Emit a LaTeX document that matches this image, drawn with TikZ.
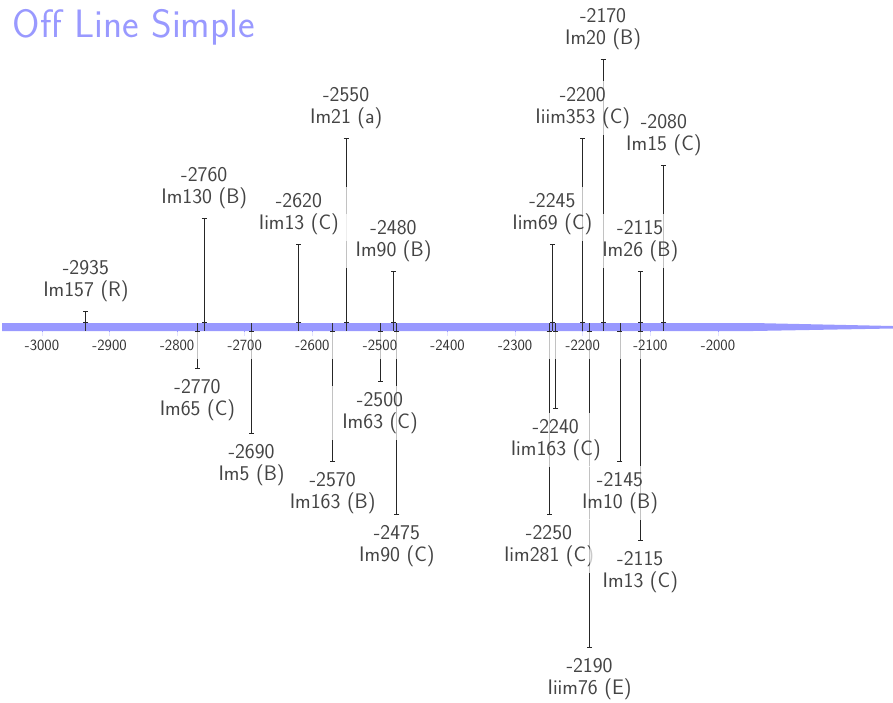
\documentclass[tikz,border=0pt]{standalone}
\usetikzlibrary{arrows.meta}
\renewcommand{\familydefault}{\sfdefault}
\definecolor{barblue}{HTML}{9999FF}
\definecolor{tickblue}{HTML}{9999FF}
\definecolor{txt}{HTML}{444444}
\definecolor{ticktxt}{HTML}{333333}
\begin{document}
\begin{tikzpicture}[x=1pt,y=-1pt,
  evline/.style={line width=0.9pt, draw=black!85, {Bar[width=5pt,line width=0.9pt]}-{Bar[width=5pt,line width=0.9pt]}},
  crossline/.style={line width=0.9pt, draw=black!80},
  evlab/.style={align=center, text=txt, font=\fontsize{21}{22}\selectfont, minimum width=100pt, fill=white, fill opacity=0.72, text opacity=1, inner ysep=6pt, inner xsep=0pt},
  ticklab/.style={text=ticktxt, font=\fontsize{15.6}{16}\selectfont, minimum width=68pt, minimum height=27pt, fill=white, fill opacity=0.72, text opacity=1, inner sep=0pt},
  tickmark/.style={draw=tickblue, line width=0.9pt},
  titlestyle/.style={text=barblue, font=\fontsize{39.6}{42}\selectfont, anchor=base west, inner sep=0pt}]
\useasboundingbox (0,0) rectangle (893,702);
% axis bar
\fill[barblue] (2,323) -- (753,323) -- (893,326) -- (893,328.5) -- (753,331) -- (2,331) -- cycle;
% tick marks
\foreach \t in {-3000,-2900,...,-2000} {
  \pgfmathsetmacro\x{42+(\t+3000)*0.676}
  \draw[tickmark] (\x,331) -- (\x,336);
}
% event lines above
\foreach \v/\e [count=\i] in {-2935/311,-2760/218,-2620/244,-2550/138,-2480/271,-2245/244,-2200/138,-2170/59,-2115/271,-2080/165} {
  \pgfmathsetmacro\x{42+(\v+3000)*0.676}
  \coordinate (tb\i) at (\x,323);
  \coordinate (te\i) at (\x,\e);
  \draw[evline] (tb\i) -- (te\i);
  \coordinate (tc\i) at (\x,331);
  \draw[crossline] (tb\i) -- (tc\i);
}
% event lines below
\foreach \v/\e [count=\i] in {-2770/369,-2690/434,-2570/462,-2500/382,-2475/515,-2250/515,-2240/409,-2190/648,-2145/462,-2115/541} {
  \pgfmathsetmacro\x{42+(\v+3000)*0.676}
  \coordinate (bb\i) at (\x,331);
  \coordinate (be\i) at (\x,\e);
  \draw[evline] (bb\i) -- (be\i);
  \coordinate (bc\i) at (\x,323);
  \draw[crossline] (bc\i) -- (bb\i);
}
% tick labels
\foreach \t [count=\i] in {-3000,-2900,...,-2000} {
  \pgfmathsetmacro\x{42+(\t+3000)*0.676}
  \node[ticklab] (tl\i) at (\x,345) {\t};
}
% labels above (drawn right to left)
\foreach \v/\e/\n [count=\i] in {-2080/165/{Im15 (C)},-2115/271/{Im26 (B)},-2170/59/{Im20 (B)},-2200/138/{Iiim353 (C)},-2245/244/{Iim69 (C)},-2480/271/{Im90 (B)},-2550/138/{Im21 (a)},-2620/244/{Iim13 (C)},-2760/218/{Im130 (B)},-2935/311/{Im157 (R)}} {
  \pgfmathsetmacro\x{42+(\v+3000)*0.676}
  \node[evlab] (tlab\i) at (\x,\e-30) {\v\\\n};
}
% labels below
\foreach \v/\e/\n [count=\i] in {-2770/369/{Im65 (C)},-2690/434/{Im5 (B)},-2570/462/{Im163 (B)},-2500/382/{Im63 (C)},-2475/515/{Im90 (C)},-2250/515/{Iim281 (C)},-2240/409/{Iim163 (C)},-2190/648/{Iiim76 (E)},-2145/462/{Im10 (B)},-2115/541/{Im13 (C)}} {
  \pgfmathsetmacro\x{42+(\v+3000)*0.676}
  \node[evlab] (blab\i) at (\x,\e+31) {\v\\\n};
}
% title
\node[titlestyle] (title) at (12.5,37.5) {Off Line Simple};
\end{tikzpicture}
\end{document}
